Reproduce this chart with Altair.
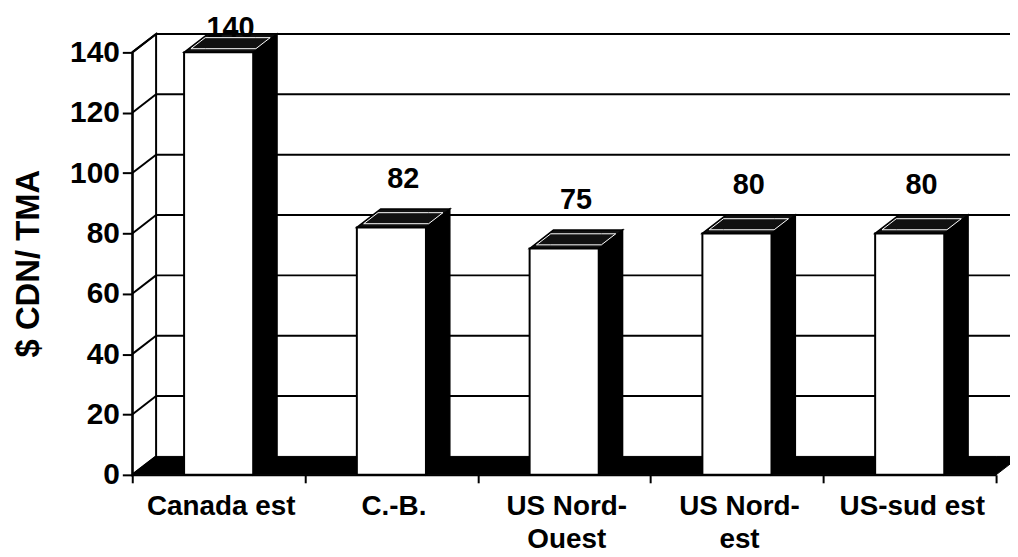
import altair as alt
import pandas as pd

# ---------------- data ----------------
categories = ["Canada est", "C.-B.", "US Nord-Ouest", "US Nord-est", "US-sud est"]
axis_labels = ["Canada est", "C.-B.", "US Nord-\nOuest", "US Nord-\nest", "US-sud est"]
values = [140, 82, 75, 80, 80]
y_ticks = [0, 20, 40, 60, 80, 100, 120, 140]
y_title = "$ CDN/ TMA"

# ---------------- 3D geometry (in scale units) ----------------
N = len(categories)
YMAX = 140
DX = 0.138   # depth shift along x (category units)
DY = 6.1     # depth shift along y (value units)
HALF = 0.2   # half width of a bar's front face
FONT = "Liberation Sans"


def hpar(shape, xa, xb, y0, s0=0.0, s1=1.0):
    """parallelogram with horizontal edges (floor / bar top), as area points"""
    return [
        dict(shape=shape, x=xa + s0 * DX, lo=y0 + s0 * DY, hi=y0 + s0 * DY),
        dict(shape=shape, x=xa + s1 * DX, lo=y0 + s0 * DY, hi=y0 + s1 * DY),
        dict(shape=shape, x=xb + s0 * DX, lo=y0 + s0 * DY, hi=y0 + s1 * DY),
        dict(shape=shape, x=xb + s1 * DX, lo=y0 + s1 * DY, hi=y0 + s1 * DY),
    ]


def vpar(shape, x0, ylo, yhi):
    """parallelogram with vertical edges (bar side / left wall)"""
    return [
        dict(shape=shape, x=x0, lo=ylo, hi=yhi),
        dict(shape=shape, x=x0 + DX, lo=ylo + DY, hi=yhi + DY),
    ]


centers = [i + 0.5 for i in range(N)]

wall = pd.DataFrame(vpar("wall", 0, 0, YMAX))
floor_df = pd.DataFrame(hpar("floor", 0, N, 0))
sides, tops, inners, fronts, vlabels, xlabs = [], [], [], [], [], []
for i, (c, v) in enumerate(zip(centers, values)):
    sides += vpar(f"s{i}", c + HALF, 0, v)
    tops += hpar(f"t{i}", c - HALF, c + HALF, v)
    inners += hpar(f"n{i}", c - HALF + 0.012, c + HALF - 0.012, v, 0.2, 0.8)
    fronts.append(dict(cat=categories[i], x0=c - HALF, x1=c + HALF, y0=0, y1=v))
    vlabels.append(dict(x=c + DX / 2, y=min(v + 16, 148), txt=str(v)))
    xlabs.append(dict(x=c + 0.015, y=0, txt=axis_labels[i]))
sides = pd.DataFrame(sides)
tops = pd.DataFrame(tops)
inners = pd.DataFrame(inners)
fronts = pd.DataFrame(fronts)
vlabels = pd.DataFrame(vlabels)
xlabs = pd.DataFrame(xlabs)

grid_back = pd.DataFrame([dict(xa=DX, xb=N + 0.2, y=t + DY) for t in y_ticks[1:]])
grid_diag = pd.DataFrame(
    [dict(g=t, x=0, y=t) for t in y_ticks] + [dict(g=t, x=DX, y=t + DY) for t in y_ticks]
)

xs = alt.Scale(domain=[0, N], nice=False, zero=False)
ys = alt.Scale(domain=[0, YMAX], nice=False, zero=False)


def area_layer(df, **mark):
    return alt.Chart(df).mark_area(**mark).encode(
        x=alt.X("x:Q", scale=xs, axis=None),
        y=alt.Y("hi:Q", scale=ys, axis=None),
        y2="lo:Q",
        detail="shape:N",
    )


wall_l = area_layer(wall, fill="white", stroke="black", strokeWidth=2)
back_l = alt.Chart(grid_back).mark_rule(color="black", strokeWidth=2).encode(
    x=alt.X("xa:Q", scale=xs, axis=None), x2="xb:Q",
    y=alt.Y("y:Q", scale=ys, axis=None),
)
diag_l = alt.Chart(grid_diag).mark_line(color="black", strokeWidth=2).encode(
    x=alt.X("x:Q", scale=xs, axis=None),
    y=alt.Y("y:Q", scale=ys, axis=None),
    detail="g:N",
)
floor_l = area_layer(floor_df, fill="black", stroke="black", strokeWidth=1)
side_l = area_layer(sides, fill="black", stroke="black", strokeWidth=1.5)
top_l = area_layer(tops, fill="#111111", stroke="black", strokeWidth=1.5)
inner_l = area_layer(inners, fillOpacity=0, stroke="white", strokeWidth=1)

front_l = alt.Chart(fronts).mark_rect(fill="white", stroke="black", strokeWidth=2).encode(
    x=alt.X(
        "x0:Q", scale=xs, title=None,
        axis=alt.Axis(values=list(range(N + 1)), labels=False, ticks=True, tickSize=8,
                      tickWidth=2, tickColor="black", domainColor="black", domainWidth=2,
                      grid=False, zindex=1),
    ),
    x2="x1:Q",
    y=alt.Y(
        "y0:Q", scale=ys,
        axis=alt.Axis(values=y_ticks, title=y_title, grid=False, tickSize=10, tickWidth=2,
                      tickColor="black", domainColor="black", domainWidth=2,
                      labelFont=FONT, labelFontSize=30, labelFontWeight="bold",
                      labelColor="black", labelPadding=3, zindex=1,
                      titleFont=FONT, titleFontSize=33, titleFontWeight="bold",
                      titleColor="black", titleX=-104, titleY=212,
                      titleAngle=270, titleAlign="center", titleBaseline="middle"),
    ),
    y2="y1:Q",
)

val_l = alt.Chart(vlabels).mark_text(
    font=FONT, fontSize=29, fontWeight="bold", color="black", baseline="middle", align="center"
).encode(
    x=alt.X("x:Q", scale=xs, axis=None),
    y=alt.Y("y:Q", scale=ys, axis=None),
    text="txt:N",
)

xlab_l = alt.Chart(xlabs).mark_text(
    font=FONT, fontSize=28, fontWeight="bold", color="black", baseline="alphabetic",
    align="center", dy=40, lineBreak="\n", lineHeight=34,
).encode(
    x=alt.X("x:Q", scale=xs, axis=None),
    y=alt.Y("y:Q", scale=ys, axis=None),
    text="txt:N",
)

chart = alt.layer(
    wall_l, back_l, diag_l, floor_l, side_l, top_l, inner_l, front_l, val_l, xlab_l
).resolve_axis(
    x="independent", y="independent"
).properties(
    width=869,
    height=425,
    autosize="none",
    padding={"left": 125, "top": 43, "right": 14, "bottom": 80},
    background="white",
).configure_view(stroke=None)

chart.save("out.html", embed_options={"renderer": "svg", "actions": False})
